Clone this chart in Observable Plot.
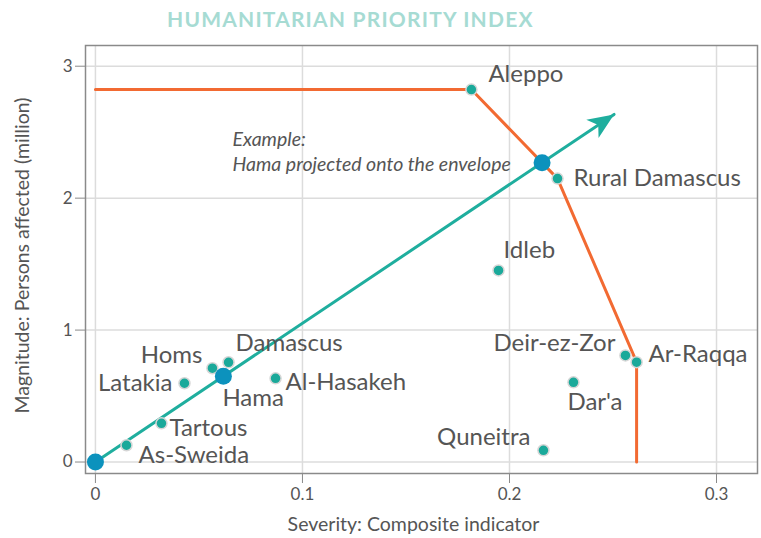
<!DOCTYPE html>
<html>
<head>
<meta charset="utf-8">
<script src="https://cdn.jsdelivr.net/npm/d3@7"></script>
<script src="https://cdn.jsdelivr.net/npm/@observablehq/plot@0.6"></script>
<style>
  html, body { margin: 0; padding: 0; background: #fff; }
  #title { height: 36px; line-height: 38px; padding-left: 167px; font-family: Lato, sans-serif; font-weight: 700; font-size: 21px; letter-spacing: 1.2px; color: #a6dbd3; white-space: nowrap; }
  svg { display: block; }
</style>
</head>
<body>
<div id="title">HUMANITARIAN PRIORITY INDEX</div>
<div id="chart"></div>
<script>
// ---- data ----
const regions   = ["Aleppo", "Rural Damascus", "Idleb", "Deir-ez-Zor", "Ar-Raqqa", "Dar'a", "Quneitra", "Al-Hasakeh", "Damascus", "Homs", "Hama", "Latakia", "Tartous", "As-Sweida"];
const severity  = [0.1816, 0.2232, 0.1947, 0.2560, 0.2614, 0.2309, 0.2164, 0.0870, 0.0643, 0.0565, 0.0618, 0.0430, 0.0319, 0.0150];
const magnitude = [2.823, 2.148, 1.452, 0.808, 0.757, 0.604, 0.089, 0.634, 0.756, 0.711, 0.650, 0.597, 0.293, 0.127];
const envelopeRegions = ["Aleppo", "Rural Damascus", "Ar-Raqqa"];
const exampleRegion = "Hama";
const rayEndSeverity = 0.2505;
const xTicks = [0, 0.1, 0.2, 0.3];
const yTicks = [0, 1, 2, 3];
const xLabel = "Severity: Composite indicator";
const yLabel = "Magnitude: Persons affected (million)";
const noteText = "Example:\nHama projected onto the envelope";
const noteSeverity = 0.0662;
const noteMagnitude = 2.36;

// label placement (layout only)
const labelLayout = {
  "Aleppo":         {anchor: "start", dx: 17,  dy: -15},
  "Rural Damascus": {anchor: "start", dx: 16,  dy: 0},
  "Idleb":          {anchor: "start", dx: 5,   dy: -20},
  "Deir-ez-Zor":    {anchor: "end",   dx: -10, dy: -12},
  "Ar-Raqqa":       {anchor: "start", dx: 12,  dy: -8},
  "Dar'a":          {anchor: "start", dx: -6,  dy: 20},
  "Quneitra":       {anchor: "end",   dx: -13, dy: -13},
  "Al-Hasakeh":     {anchor: "start", dx: 10,  dy: 4},
  "Damascus":       {anchor: "start", dx: 7,   dy: -19},
  "Homs":           {anchor: "end",   dx: -10, dy: -13},
  "Hama":           {anchor: "start", dx: -1,  dy: 22},
  "Latakia":        {anchor: "end",   dx: -12, dy: 0},
  "Tartous":        {anchor: "start", dx: 8,   dy: 5},
  "As-Sweida":      {anchor: "start", dx: 12,  dy: 10}
};

// ---- derived tables ----
const points = regions.map((r, i) => ({region: r, x: severity[i], y: magnitude[i]}));
const byName = new Map(points.map(d => [d.region, d]));
const env = envelopeRegions.map(r => byName.get(r));
const envelope = [{x: 0, y: env[0].y}, ...env, {x: env[env.length - 1].x, y: 0}];
const ex = byName.get(exampleRegion);
const k = ex.y / ex.x;
// intersection of the ray y = k x with the envelope
let proj = null;
for (let i = 0; i < envelope.length - 1 && !proj; i++) {
  const a = envelope[i], b = envelope[i + 1];
  const t = (k * a.x - a.y) / ((b.y - a.y) - k * (b.x - a.x));
  if (t >= 0 && t <= 1) proj = {x: a.x + t * (b.x - a.x), y: a.y + t * (b.y - a.y)};
}
const ray = [{x: 0, y: 0}, {x: rayEndSeverity, y: k * rayEndSeverity}];
const bluePoints = [{x: 0, y: 0}, ex, proj];
const tealPoints = points.filter(d => d.region !== exampleRegion);

const TEAL = "#1aa99a", RAY = "#1fae9e", BLUE = "#0c92bd", ORANGE = "#f26a32", TEXT = "#555";
const FONT = "Lato, sans-serif";

function arrowHead(color) {
  const ns = "http://www.w3.org/2000/svg";
  const m = document.createElementNS(ns, "marker");
  m.setAttribute("viewBox", "-27 -12 28 24");
  m.setAttribute("markerWidth", 28);
  m.setAttribute("markerHeight", 24);
  m.setAttribute("refX", 0);
  m.setAttribute("refY", 0);
  m.setAttribute("orient", "auto");
  m.setAttribute("markerUnits", "userSpaceOnUse");
  const p = document.createElementNS(ns, "path");
  p.setAttribute("d", "M0,0L-26,-11L-19,0L-26,11Z");
  p.setAttribute("fill", color);
  p.setAttribute("stroke", "none");
  m.appendChild(p);
  return m;
}

const labelMarks = points.map(d => {
  const L = labelLayout[d.region];
  return Plot.text([d], {x: "x", y: "y", text: "region", textAnchor: L.anchor, dx: L.dx, dy: L.dy,
    fill: TEXT, fontSize: 24, fontFamily: FONT});
});

const chart = Plot.plot({
  width: 761,
  height: 502,
  marginLeft: 85,
  marginRight: 4,
  marginTop: 9,
  marginBottom: 65,
  style: {fontFamily: FONT, color: TEXT, background: "#fff"},
  x: {domain: [-0.0048, 0.3198]},
  y: {domain: [-0.087, 3.157]},
  marks: [
    Plot.gridX(xTicks, {stroke: "#dcdcdc", strokeOpacity: 1, strokeWidth: 1.5}),
    Plot.gridY(yTicks, {stroke: "#dcdcdc", strokeOpacity: 1, strokeWidth: 1.5}),
    Plot.frame({stroke: "#8a8a8a", strokeWidth: 1.5}),
    Plot.axisX(xTicks, {tickSize: 10, tickPadding: 4, fontSize: 17, stroke: "#8a8a8a", fill: TEXT,
      tickFormat: d => d === 0 ? "0" : d3.format(".1f")(d), label: null}),
    Plot.axisY(yTicks, {tickSize: 10, tickPadding: 3, fontSize: 17, stroke: "#8a8a8a", fill: TEXT,
      tickFormat: d3.format("d"), label: null}),
    Plot.text([xLabel], {frameAnchor: "bottom", textAnchor: "middle", lineAnchor: "middle", dx: -8, dy: 51,
      fontSize: 19.5, fill: TEXT, fontFamily: FONT}),
    Plot.text([yLabel], {frameAnchor: "left", textAnchor: "middle", lineAnchor: "middle", rotate: -90, dx: -63, dy: -4,
      fontSize: 19.5, fill: TEXT, fontFamily: FONT}),
    Plot.line(envelope, {x: "x", y: "y", stroke: ORANGE, strokeWidth: 3}),
    Plot.line(ray, {x: "x", y: "y", stroke: RAY, strokeWidth: 3, markerEnd: arrowHead}),
    Plot.dot(tealPoints, {x: "x", y: "y", r: 5.5, fill: TEAL, stroke: "#d6d6d6", strokeWidth: 1.5}),
    Plot.dot(bluePoints, {x: "x", y: "y", r: 8.5, fill: BLUE}),
    ...labelMarks,
    Plot.text([{x: noteSeverity, y: noteMagnitude, t: noteText}], {x: "x", y: "y", text: "t", textAnchor: "start",
      lineAnchor: "middle", lineHeight: 1.3, fontStyle: "italic", fontSize: 19.5, fill: TEXT, fontFamily: FONT})
  ]
});
document.getElementById("chart").appendChild(chart);
</script>
</body>
</html>
